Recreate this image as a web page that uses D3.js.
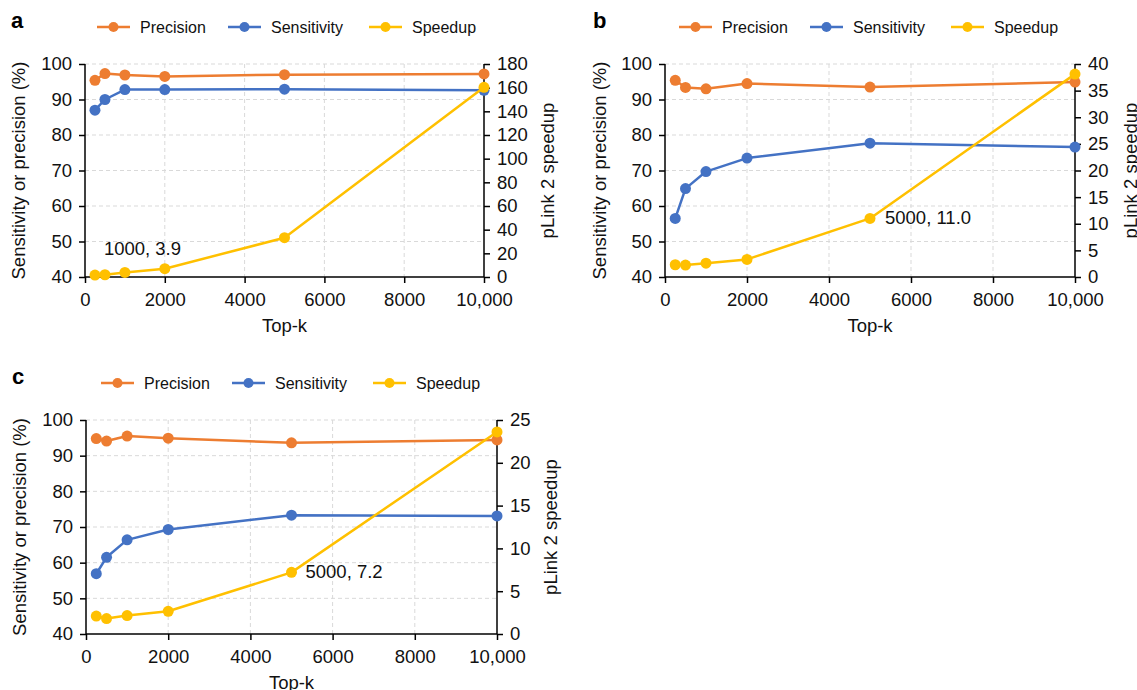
<!DOCTYPE html>
<html>
<head>
<meta charset="utf-8">
<script src="https://cdn.jsdelivr.net/npm/d3@7"></script>
<style>
  html, body { margin: 0; padding: 0; background: #fff; }
  svg { display: block; font-family: "Liberation Sans", Arial, Helvetica, sans-serif; }
</style>
</head>
<body>
<svg id="chart" width="1137" height="690"></svg>
<script>
// ---------- DATA ----------
const topK = [250, 500, 1000, 2000, 5000, 10000];

const precisionA   = [95.4, 97.3, 96.9, 96.5, 97.0, 97.2];
const sensitivityA = [87.0, 90.0, 92.8, 92.8, 92.9, 92.6];
const speedupA     = [1.6, 1.9, 3.9, 7.0, 33.2, 160.3];

const precisionB   = [95.4, 93.4, 93.0, 94.5, 93.5, 94.9];
const sensitivityB = [56.5, 64.9, 69.7, 73.5, 77.7, 76.6];
const speedupB     = [2.3, 2.25, 2.6, 3.3, 11.0, 38.1];

const precisionC   = [94.8, 94.1, 95.5, 94.9, 93.6, 94.4];
const sensitivityC = [56.9, 61.5, 66.4, 69.3, 73.3, 73.1];
const speedupC     = [2.1, 1.8, 2.15, 2.65, 7.2, 23.6];

const xTickValues = [0, 2000, 4000, 6000, 8000, 10000];
const xTickLabels = ["0", "2000", "4000", "6000", "8000", "10,000"];
const leftTicks   = [40, 50, 60, 70, 80, 90, 100];
const rightTicksA = [0, 20, 40, 60, 80, 100, 120, 140, 160, 180];
const rightTicksB = [0, 5, 10, 15, 20, 25, 30, 35, 40];
const rightTicksC = [0, 5, 10, 15, 20, 25];

const seriesNames = ["Precision", "Sensitivity", "Speedup"];
const panelLetters = ["a", "b", "c"];
const annotationsText = ["1000, 3.9", "5000, 11.0", "5000, 7.2"];
const annotationX = [1000, 5000, 5000];
const annotationY = [3.9, 11.0, 7.2];

// ---------- STYLE / LAYOUT ----------
const colors = { Precision: "#ED7D31", Sensitivity: "#4472C4", Speedup: "#FFC000" };
const FONT_TICK = 18.5, FONT_TITLE = 18.5, FONT_LEGEND = 16;

const panels = [
  { letter: panelLetters[0], left: 85, right: 484, top: 64, bottom: 277, rMax: 180, rTicks: rightTicksA,
    prec: precisionA, sens: sensitivityA, speed: speedupA,
    legendX: 97, legendY: 27, letterX: 11, letterY: 28, leftTitleX: 19, rightTitleX: 548,
    ann: { text: annotationsText[0], x: annotationX[0], y: annotationY[0], dx: -21, dy: -17 } },
  { letter: panelLetters[1], left: 665, right: 1075, top: 64, bottom: 277, rMax: 40, rTicks: rightTicksB,
    prec: precisionB, sens: sensitivityB, speed: speedupB,
    legendX: 679, legendY: 27, letterX: 593, letterY: 28, leftTitleX: 600, rightTitleX: 1131,
    ann: { text: annotationsText[1], x: annotationX[1], y: annotationY[1], dx: 15, dy: 6 } },
  { letter: panelLetters[2], left: 86, right: 497, top: 420, bottom: 634, rMax: 25, rTicks: rightTicksC,
    prec: precisionC, sens: sensitivityC, speed: speedupC,
    legendX: 101, legendY: 383, letterX: 12, letterY: 384, leftTitleX: 20, rightTitleX: 551,
    ann: { text: annotationsText[2], x: annotationX[2], y: annotationY[2], dx: 14, dy: 6 } }
];
const legendOffsets = [0, 131, 272];

const svg = d3.select("#chart");

panels.forEach(p => {
  const g = svg.append("g");
  const x = d3.scaleLinear().domain([0, 10000]).range([p.left, p.right]);
  const yL = d3.scaleLinear().domain([40, 100]).range([p.bottom, p.top]);
  const yR = d3.scaleLinear().domain([0, p.rMax]).range([p.bottom, p.top]);

  // grid
  const grid = g.append("g").attr("stroke", "#d9d9d9").attr("stroke-width", 1).attr("stroke-dasharray", "4,3");
  leftTicks.filter(v => v > 40).forEach(v => {
    grid.append("line").attr("x1", p.left).attr("x2", p.right).attr("y1", yL(v)).attr("y2", yL(v));
  });
  xTickValues.filter(v => v > 0 && v < 10000).forEach(v => {
    grid.append("line").attr("x1", x(v)).attr("x2", x(v)).attr("y1", p.top).attr("y2", p.bottom);
  });

  // axes
  const axB = d3.axisBottom(x).tickValues(xTickValues).tickFormat((d, i) => xTickLabels[i]).tickSize(6).tickPadding(10);
  const axL = d3.axisLeft(yL).tickValues(leftTicks).tickSize(6).tickPadding(7);
  const axR = d3.axisRight(yR).tickValues(p.rTicks).tickSize(6).tickPadding(7);
  const styleAxis = sel => {
    sel.selectAll(".domain").attr("stroke", "#000").attr("stroke-width", 1.5);
    sel.selectAll(".tick line").attr("stroke", "#000").attr("stroke-width", 1.5);
    sel.selectAll("text").attr("fill", "#111").style("font-size", FONT_TICK + "px")
      .style("font-family", '"Liberation Sans", Arial, Helvetica, sans-serif');
  };
  g.append("g").attr("transform", `translate(0,${p.bottom})`).call(axB).call(styleAxis)
    .call(s => s.select(".domain").attr("d", `M${p.left},0H${p.right}`));
  g.append("g").attr("transform", `translate(${p.left},0)`).call(axL).call(styleAxis)
    .call(s => s.select(".domain").attr("d", `M0,${p.top}V${p.bottom}`));
  g.append("g").attr("transform", `translate(${p.right},0)`).call(axR).call(styleAxis)
    .call(s => s.select(".domain").attr("d", `M0,${p.top}V${p.bottom}`));

  // axis titles
  g.append("text").attr("x", (p.left + p.right) / 2).attr("y", p.bottom + 55)
    .attr("text-anchor", "middle").style("font-size", FONT_TITLE + "px").attr("fill", "#111").text("Top-k");
  g.append("text").attr("transform", `translate(${p.leftTitleX},${(p.top + p.bottom) / 2}) rotate(-90)`)
    .attr("text-anchor", "middle").attr("dy", "0.35em").style("font-size", FONT_TITLE + "px").attr("fill", "#111")
    .text("Sensitivity or precision (%)");
  g.append("text").attr("transform", `translate(${p.rightTitleX},${(p.top + p.bottom) / 2}) rotate(-90)`)
    .attr("text-anchor", "middle").attr("dy", "0.35em").style("font-size", FONT_TITLE + "px").attr("fill", "#111")
    .text("pLink 2 speedup");

  // series
  const series = [
    { name: "Precision", vals: p.prec, y: yL },
    { name: "Sensitivity", vals: p.sens, y: yL },
    { name: "Speedup", vals: p.speed, y: yR }
  ];
  series.forEach(s => {
    const data = topK.map((k, i) => [k, s.vals[i]]);
    const line = d3.line().x(d => x(d[0])).y(d => s.y(d[1]));
    g.append("path").datum(data).attr("d", line).attr("fill", "none")
      .attr("stroke", colors[s.name]).attr("stroke-width", 2.5).attr("stroke-linejoin", "round");
    g.append("g").selectAll("circle").data(data).join("circle")
      .attr("cx", d => x(d[0])).attr("cy", d => s.y(d[1])).attr("r", 5.5).attr("fill", colors[s.name]);
  });

  // annotation
  g.append("text").attr("x", x(p.ann.x) + p.ann.dx).attr("y", yR(p.ann.y) + p.ann.dy)
    .style("font-size", FONT_TITLE + "px").attr("fill", "#111").text(p.ann.text);

  // panel letter
  g.append("text").attr("x", p.letterX).attr("y", p.letterY).style("font-size", "22px")
    .style("font-weight", "bold").attr("fill", "#000").text(p.letter);

  // legend
  seriesNames.forEach((name, i) => {
    const lx = p.legendX + legendOffsets[i];
    const lg = g.append("g");
    lg.append("line").attr("x1", lx).attr("x2", lx + 33).attr("y1", p.legendY).attr("y2", p.legendY)
      .attr("stroke", colors[name]).attr("stroke-width", 2.5);
    lg.append("circle").attr("cx", lx + 16.5).attr("cy", p.legendY).attr("r", 5).attr("fill", colors[name]);
    lg.append("text").attr("x", lx + 43).attr("y", p.legendY).attr("dy", "0.35em")
      .style("font-size", FONT_LEGEND + "px").attr("fill", "#111").text(name);
  });
});
</script>
</body>
</html>
